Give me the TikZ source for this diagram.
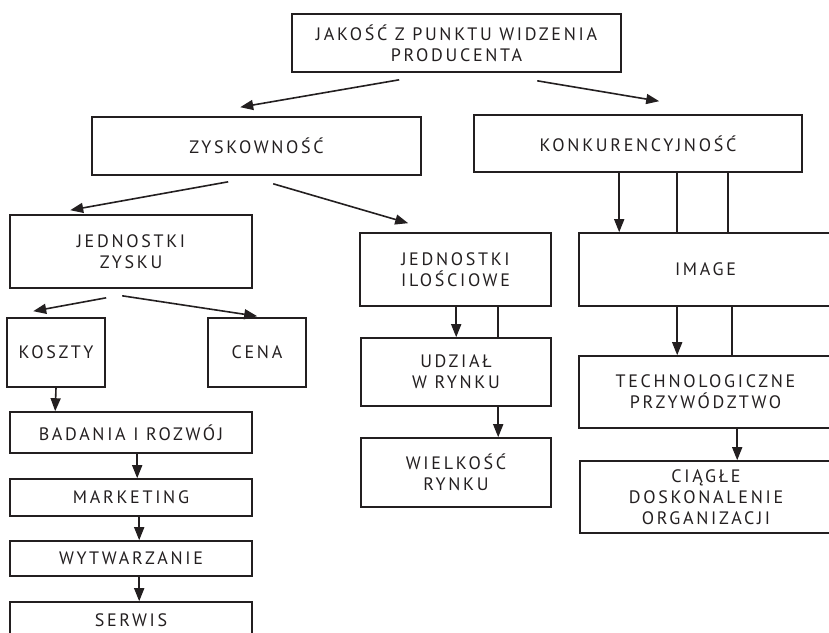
\documentclass[tikz,border=0pt]{standalone}
\usepackage{fontspec}
\setmainfont{PT Sans}[LetterSpace=15]
\usetikzlibrary{arrows.meta}
\definecolor{ink}{HTML}{231F20}
\tikzset{
  box/.style={draw=ink, line width=1.6pt, rectangle, inner sep=0pt, align=center,
    text=ink, font=\fontsize{18}{21}\selectfont},
  arr/.style={draw=ink, line width=1.6pt, -{Triangle[length=13pt,width=10pt]}},
  tie/.style={draw=ink, line width=1.6pt}
}
\begin{document}
\begin{tikzpicture}[x=1pt,y=-1pt]
\useasboundingbox (0,0) rectangle (829,632);
\clip (0,0) rectangle (829,632);

% top level
\node[box, minimum width=329, minimum height=58] (top) at (456.5,43)
  {JAKOŚĆ Z PUNKTU WIDZENIA\\PRODUCENTA};

% second level
\node[box, minimum width=329, minimum height=58] (zysk) at (256.5,146) {ZYSKOWNOŚĆ};
\node[box, minimum width=328, minimum height=57] (konk) at (638,143.5) {KONKURENCYJNOŚĆ};

% profitability branch
\node[box, minimum width=242, minimum height=73] (jz) at (131,251.5) {JEDNOSTKI\\ZYSKU};
\node[box, minimum width=191, minimum height=73] (ji) at (455.5,269.5) {JEDNOSTKI\\ILOŚCIOWE};
\node[box, minimum width=98, minimum height=69] (koszty) at (56,352.5) {KOSZTY};
\node[box, minimum width=98, minimum height=69] (cena) at (257,352.5) {CENA};
\node[box, minimum width=242, minimum height=41] (badania) at (131,432.5) {BADANIA I ROZWÓJ};
\node[box, minimum width=242, minimum height=37] (marketing) at (131,497.5) {MARKETING};
\node[box, minimum width=242, minimum height=35] (wytw) at (131,558.5) {WYTWARZANIE};
\node[box, minimum width=242, minimum height=36] (serwis) at (131,620) {SERWIS};
\node[box, minimum width=190, minimum height=68] (udzial) at (456,372) {UDZIAŁ\\W RYNKU};
\node[box, minimum width=190, minimum height=69] (wielk) at (456,472.5) {WIELKOŚĆ\\RYNKU};

% competitiveness branch
\node[box, minimum width=253, minimum height=73] (image) at (705.5,269.5) {IMAGE};
\node[box, minimum width=253, minimum height=72] (tech) at (705.5,392) {TECHNOLOGICZNE\\PRZYWÓDZTWO};
\node[box, minimum width=252, minimum height=72] (ciagle) at (706,497) {CIĄGŁE\\DOSKONALENIE\\ORGANIZACJI};

% slanted connectors
\draw[arr] ([shift={(108,7)}]top.south west) -- ([shift={(149,-9)}]zysk.north west);
\draw[arr] ([shift={(246,8)}]top.south west) -- ([shift={(186,-13)}]konk.north west);
\draw[arr] ([shift={(137,6)}]zysk.south west) -- ([shift={(61,-4)}]jz.north west);
\draw[arr] ([shift={(182,8)}]zysk.south west) -- ([shift={(49,-9)}]ji.north west);
\draw[arr] ([shift={(97,9)}]jz.south west) -- ([shift={(27,-6)}]koszty.north west);
\draw[arr] ([shift={(113,7)}]jz.south west) -- ([shift={(50,-1)}]cena.north west);

% vertical connectors
\draw[arr] ([xshift=146]konk.south west) -- ([xshift=41]image.north west);
\draw[tie] ([xshift=204]konk.south west) -- ([xshift=99]image.north west);
\draw[tie] ([xshift=255]konk.south west) -- ([xshift=150]image.north west);
\draw[arr] ([xshift=97]ji.south west) -- ([xshift=96]udzial.north west);
\draw[tie] ([xshift=139]ji.south west) -- ([xshift=138]udzial.north west);
\draw[arr] ([xshift=138]udzial.south west) -- ([xshift=138]wielk.north west);
\draw[arr] ([xshift=99]image.south west) -- ([xshift=99]tech.north west);
\draw[tie] ([xshift=154]image.south west) -- ([xshift=154]tech.north west);
\draw[arr] ([xshift=159]tech.south west) -- ([xshift=158]ciagle.north west);
\draw[arr] (koszty.south) -- ([xshift=46]badania.north west);
\draw[arr] ([xshift=128]badania.south west) -- ([xshift=128]marketing.north west);
\draw[arr] ([xshift=130]marketing.south west) -- ([xshift=130]wytw.north west);
\draw[arr] ([xshift=130]wytw.south west) -- ([xshift=130]serwis.north west);
\end{tikzpicture}
\end{document}
